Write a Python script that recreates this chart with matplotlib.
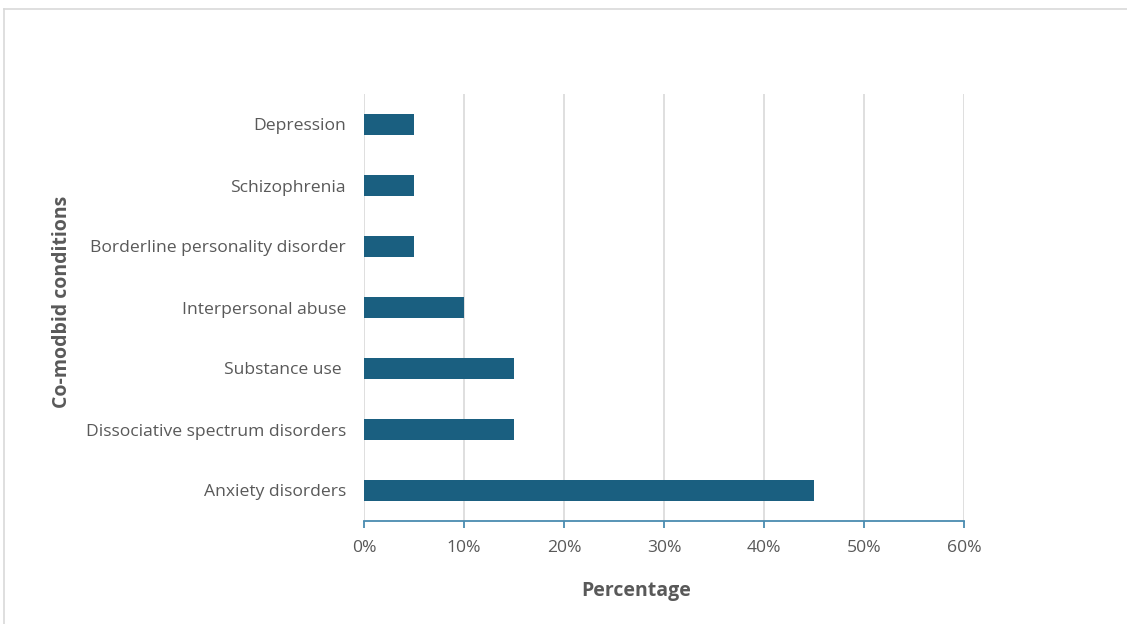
import matplotlib
matplotlib.use("Agg")
import matplotlib.pyplot as plt
from matplotlib.lines import Line2D
from matplotlib.ticker import FuncFormatter

categories = ["Anxiety disorders", "Dissociative spectrum disorders", "Substance use ",
              "Interpersonal abuse", "Borderline personality disorder", "Schizophrenia", "Depression"]
values = [45, 15, 15, 10, 5, 5, 5]
xticks = [0, 10, 20, 30, 40, 50, 60]

plt.rcParams['font.family'] = ['Open Sans', 'DejaVu Sans']
W, H = 1127, 624
fig = plt.figure(figsize=(W/100, H/100), dpi=100)
fig.patch.set_facecolor("white")
ax = fig.add_axes([364/W, 1-521/H, 600/W, 427/H])

ypos = list(range(len(categories)))
ax.barh(ypos, values, height=0.33, color="#1a5f80", zorder=3)
ax.set_ylim(-0.5, len(categories)-0.5)
ax.set_xlim(0, 60)
ax.set_xticks(xticks)
ax.xaxis.set_major_formatter(FuncFormatter(lambda v, p: f"{int(v)}%"))
ax.set_yticks(ypos)
ax.set_yticklabels(categories)
ax.grid(axis="x", color="#d9d9d9", linewidth=1.2, zorder=0)
for s in ["top", "right", "left"]:
    ax.spines[s].set_visible(False)
ax.spines["bottom"].set_color("#4a8bb0")
ax.spines["bottom"].set_linewidth(1.3)
ax.tick_params(axis="x", colors="#4a8bb0", length=5, width=1.3, labelcolor="#595959",
               labelsize=12.6, pad=9)
ax.tick_params(axis="y", length=0, labelcolor="#595959", labelsize=12.6, pad=13)

fig.text(636/W, 1-591/H, "Percentage", fontsize=14, fontweight="bold", color="#595959",
         ha="center", va="center")
fig.text(62/W, 1-302/H, "Co-modbid conditions", rotation=90, fontsize=14,
         fontweight="bold", color="#595959", ha="center", va="center")

fig.add_artist(Line2D([4/W, 1], [1-9/H, 1-9/H], color="#d9d9d9", linewidth=1.2))
fig.add_artist(Line2D([4/W, 4/W], [0, 1-9/H], color="#d9d9d9", linewidth=1.2))

fig.savefig("out.png", dpi=100)
